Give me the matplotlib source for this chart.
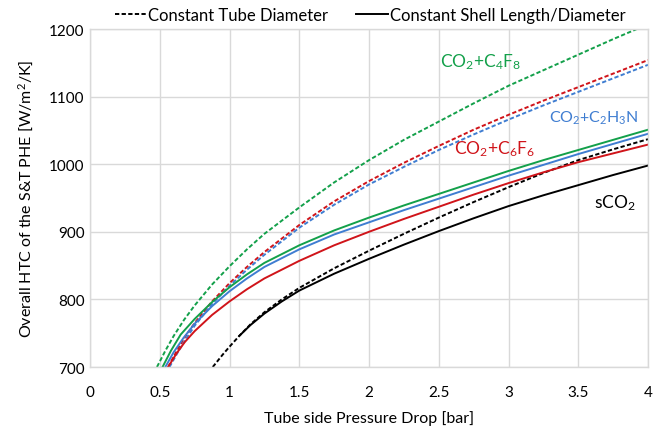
import matplotlib
matplotlib.use("Agg")
import matplotlib.pyplot as plt
from matplotlib.lines import Line2D

# ---- data ----
x_gd = [0.48, 0.54, 0.6, 0.675, 0.75, 0.875, 1.0, 1.125, 1.25, 1.5, 1.75, 2.0, 2.25, 2.5, 2.75, 3.0, 3.25, 3.5, 3.75, 4.0]
y_gd = [700, 724, 746, 770, 791, 822, 849, 874, 897, 936, 973, 1006, 1036, 1063, 1090, 1116, 1139, 1162, 1185, 1207]

x_rd = [0.56, 0.62, 0.68, 0.75, 0.875, 1.0, 1.125, 1.25, 1.5, 1.75, 2.0, 2.25, 2.5, 2.75, 3.0, 3.25, 3.5, 3.75, 4.0]
y_rd = [700, 723, 744, 765, 797, 824, 848, 870, 910, 945, 975, 1002, 1027, 1051, 1073, 1094, 1114, 1134, 1154]

x_bd = [0.57, 0.63, 0.69, 0.75, 0.875, 1.0, 1.125, 1.25, 1.5, 1.75, 2.0, 2.25, 2.5, 2.75, 3.0, 3.25, 3.5, 3.75, 4.0]
y_bd = [700, 722, 742, 761, 793, 820, 844, 866, 906, 940, 970, 996, 1021, 1044, 1066, 1087, 1107, 1127, 1147]

x_kd = [0.88, 0.95, 1.0, 1.07, 1.15, 1.25, 1.375, 1.5, 1.75, 2.0, 2.25, 2.5, 2.75, 3.0, 3.25, 3.5, 3.75, 4.0]
y_kd = [700, 718, 730, 746, 763, 781, 800, 817, 846, 872, 897, 921, 944, 966, 987, 1006, 1022, 1037]

x_gs = [0.52, 0.58, 0.65, 0.75, 0.875, 1.0, 1.125, 1.25, 1.5, 1.75, 2.0, 2.25, 2.5, 2.75, 3.0, 3.25, 3.5, 3.75, 4.0]
y_gs = [700, 724, 748, 771, 796, 818, 837, 854, 880, 902, 921, 939, 956, 973, 990, 1006, 1021, 1036, 1051]

x_bs = [0.54, 0.6, 0.67, 0.75, 0.875, 1.0, 1.125, 1.25, 1.5, 1.75, 2.0, 2.25, 2.5, 2.75, 3.0, 3.25, 3.5, 3.75, 4.0]
y_bs = [700, 722, 743, 764, 790, 812, 831, 848, 874, 896, 914, 932, 949, 966, 983, 999, 1015, 1030, 1045]

x_rs = [0.56, 0.62, 0.68, 0.75, 0.875, 1.0, 1.125, 1.25, 1.5, 1.75, 2.0, 2.25, 2.5, 2.75, 3.0, 3.25, 3.5, 3.75, 4.0]
y_rs = [700, 720, 737, 753, 777, 797, 815, 831, 857, 880, 900, 919, 937, 955, 972, 988, 1003, 1016, 1029]

x_ks = [1.07, 1.15, 1.25, 1.375, 1.5, 1.75, 2.0, 2.25, 2.5, 2.75, 3.0, 3.25, 3.5, 3.75, 4.0]
y_ks = [746, 762, 779, 797, 813, 838, 860, 881, 901, 920, 938, 954, 969, 984, 998]

x_ticks = [0, 0.5, 1, 1.5, 2, 2.5, 3, 3.5, 4]
x_ticklabels = ["0", "0.5", "1", "1.5", "2", "2.5", "3", "3.5", "4"]
y_ticks = [700, 800, 900, 1000, 1100, 1200]

GREEN = "#13A04A"
BLUE = "#3F7DD1"
RED = "#D0141A"
BLACK = "#000000"

plt.rcParams["font.family"] = ["Lato", "DejaVu Sans"]
plt.rcParams["mathtext.fontset"] = "custom"
plt.rcParams["mathtext.rm"] = "Lato"
plt.rcParams["mathtext.it"] = "Lato"
plt.rcParams["mathtext.bf"] = "Lato"

fig = plt.figure(figsize=(6.62, 4.31), dpi=100)
ax = fig.add_axes([90/662, 1 - 368/431, (648-90)/662, (368-30)/431])

lw = 1.4
dash = (2.2, 1.2)
ax.plot(x_gd, y_gd, color=GREEN, lw=lw, dashes=dash)
ax.plot(x_rd, y_rd, color=RED, lw=lw, dashes=dash)
ax.plot(x_bd, y_bd, color=BLUE, lw=lw, dashes=dash)
ax.plot(x_kd, y_kd, color=BLACK, lw=lw, dashes=dash)
ax.plot(x_gs, y_gs, color=GREEN, lw=lw)
ax.plot(x_bs, y_bs, color=BLUE, lw=lw)
ax.plot(x_rs, y_rs, color=RED, lw=lw)
ax.plot(x_ks, y_ks, color=BLACK, lw=lw)

ax.set_xlim(0, 4)
ax.set_ylim(700, 1200)
ax.set_xticks(x_ticks)
ax.set_xticklabels(x_ticklabels)
ax.set_yticks(y_ticks)
ax.grid(True, color="#d9d9d9", lw=1.0)
ax.set_axisbelow(True)
for s in ax.spines.values():
    s.set_color("#d9d9d9")
    s.set_linewidth(1.0)
ax.tick_params(length=0, labelsize=11, colors="#000000")
ax.tick_params(axis="x", pad=13)
ax.tick_params(axis="y", pad=4)

ax.set_xlabel("Tube side Pressure Drop [bar]", fontsize=11.5, labelpad=8)
ax.set_ylabel("Overall HTC of the S&T PHE [W/m$^2$/K]", fontsize=11.5, labelpad=9)

fs = 12.5
ax.text(2.80, 1153, r"CO$_2$+C$_4$F$_8$", color=GREEN, fontsize=fs, ha="center", va="center")
ax.text(3.61, 1069, r"CO$_2$+C$_2$H$_3$N", color=BLUE, fontsize=11.5, ha="center", va="center")
ax.text(2.90, 1024, r"CO$_2$+C$_6$F$_6$", color=RED, fontsize=fs, ha="center", va="center")
ax.text(3.76, 944, r"sCO$_2$", color=BLACK, fontsize=fs, ha="center", va="center")

handles = [Line2D([], [], color="black", lw=1.4, dashes=(2.2, 1.2)),
           Line2D([], [], color="black", lw=1.4)]
fig.legend(handles, ["Constant Tube Diameter", "Constant Shell Length/Diameter"],
           loc="center", bbox_to_anchor=(370/662, 1 - 16/431), ncol=2, frameon=False,
           fontsize=12, handlelength=1.9, handletextpad=0.1, columnspacing=1.7)

fig.savefig("out.png", dpi=100)
